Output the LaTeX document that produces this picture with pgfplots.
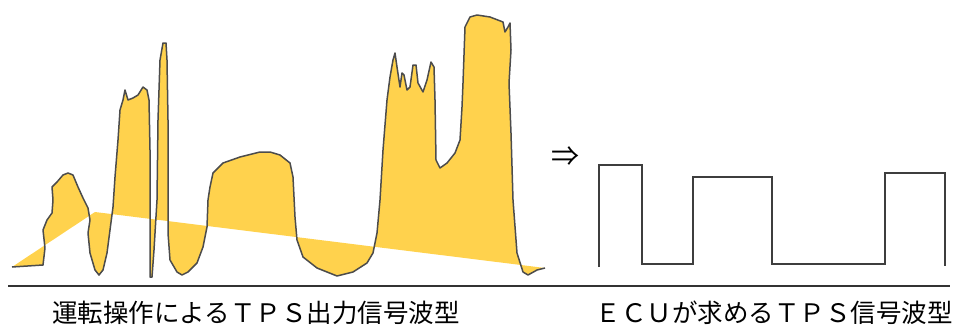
\documentclass[border=0pt]{standalone}
\usepackage{pgfplots}
\pgfplotsset{compat=1.18}
\usepackage{fontspec}
\setmainfont{Noto Sans CJK JP}
\definecolor{tpsyellow}{HTML}{FFD24D}
\definecolor{outl}{HTML}{4C4C4C}
\definecolor{wave}{HTML}{3E3E3E}
\begin{document}
\begin{tikzpicture}
\begin{axis}[x=1pt, y=1pt, y dir=reverse,
  xmin=0, xmax=965, ymin=0, ymax=326,
  hide axis, clip=false, scale only axis]
\addplot[draw=none, forget plot] coordinates {(0,0) (965,326)};
% filled area between signal and reference line
\addplot[fill=tpsyellow, draw=none] coordinates {
(12,267) (43,265) (45,248) (43,230) (47,220) (52,213) (53,200) (52,187) (57,182) (63,175) (68,173) (73,175) (78,187) (83,198) (88,208) (90,220) (88,233) (90,253) (95,270) (99,275) (103,270) (107,253) (110,230) (113,207) (115,177) (118,140) (120,110) (123,100) (125,90) (128,100) (133,98) (138,95) (143,87) (147,90) (149,100) (150,150) (150,217) (150,277) (152,277) (154,250) (157,200) (158,120) (160,60) (163,43) (166,43) (167,60) (168,120) (168,233) (170,260) (177,272) (182,275) (188,272) (197,263) (203,247) (207,227) (208,200) (210,187) (213,173) (223,163) (240,157) (260,152) (270,152) (280,155) (290,163) (293,177) (295,217) (297,240) (303,257) (317,268) (337,276) (353,272) (367,263) (373,253) (377,233) (380,200) (383,150) (387,100) (390,77) (393,60) (395,53) (397,67) (400,87) (402,73) (404,75) (407,90) (410,87) (413,65) (416,65) (418,83) (423,92) (427,80) (431,62) (434,67) (435,100) (436,160) (440,168) (447,163) (455,153) (460,140) (462,107) (463,83) (465,27) (470,17) (477,15) (490,17) (503,22) (505,32) (508,27) (510,23) (511,50) (509,83) (511,133) (513,200) (517,253) (523,272) (528,275) (537,270) (545,268)
(95,212) (12,267)} -- cycle;
% signal outline
\addplot[draw=outl, line width=1.5pt, line join=round] coordinates {
(12,267) (43,265) (45,248) (43,230) (47,220) (52,213) (53,200) (52,187) (57,182) (63,175) (68,173) (73,175) (78,187) (83,198) (88,208) (90,220) (88,233) (90,253) (95,270) (99,275) (103,270) (107,253) (110,230) (113,207) (115,177) (118,140) (120,110) (123,100) (125,90) (128,100) (133,98) (138,95) (143,87) (147,90) (149,100) (150,150) (150,217) (150,277) (152,277) (154,250) (157,200) (158,120) (160,60) (163,43) (166,43) (167,60) (168,120) (168,233) (170,260) (177,272) (182,275) (188,272) (197,263) (203,247) (207,227) (208,200) (210,187) (213,173) (223,163) (240,157) (260,152) (270,152) (280,155) (290,163) (293,177) (295,217) (297,240) (303,257) (317,268) (337,276) (353,272) (367,263) (373,253) (377,233) (380,200) (383,150) (387,100) (390,77) (393,60) (395,53) (397,67) (400,87) (402,73) (404,75) (407,90) (410,87) (413,65) (416,65) (418,83) (423,92) (427,80) (431,62) (434,67) (435,100) (436,160) (440,168) (447,163) (455,153) (460,140) (462,107) (463,83) (465,27) (470,17) (477,15) (490,17) (503,22) (505,32) (508,27) (510,23) (511,50) (509,83) (511,133) (513,200) (517,253) (523,272) (528,275) (537,270) (545,268)};
% ECU square wave
\addplot[draw=wave, line width=1.8pt, line join=miter] coordinates {
(599,267) (599,165) (642,165) (642,264) (693,264) (693,177) (772,177) (772,264) (885,264) (885,173) (945,173) (945,266)};
% baseline
\addplot[draw=black!80, line width=2pt] coordinates {(8,286) (950,286)};
\node[font=\fontsize{25.5}{26}\selectfont] at (axis cs:256,313) {運転操作によるＴＰＳ出力信号波型};
\node[font=\fontsize{25.5}{26}\selectfont] at (axis cs:774,313) {ＥＣＵが求めるＴＰＳ信号波型};
\node[font=\fontsize{28}{28}\selectfont] at (axis cs:565,157) {⇒};
\end{axis}
\end{tikzpicture}
\end{document}
